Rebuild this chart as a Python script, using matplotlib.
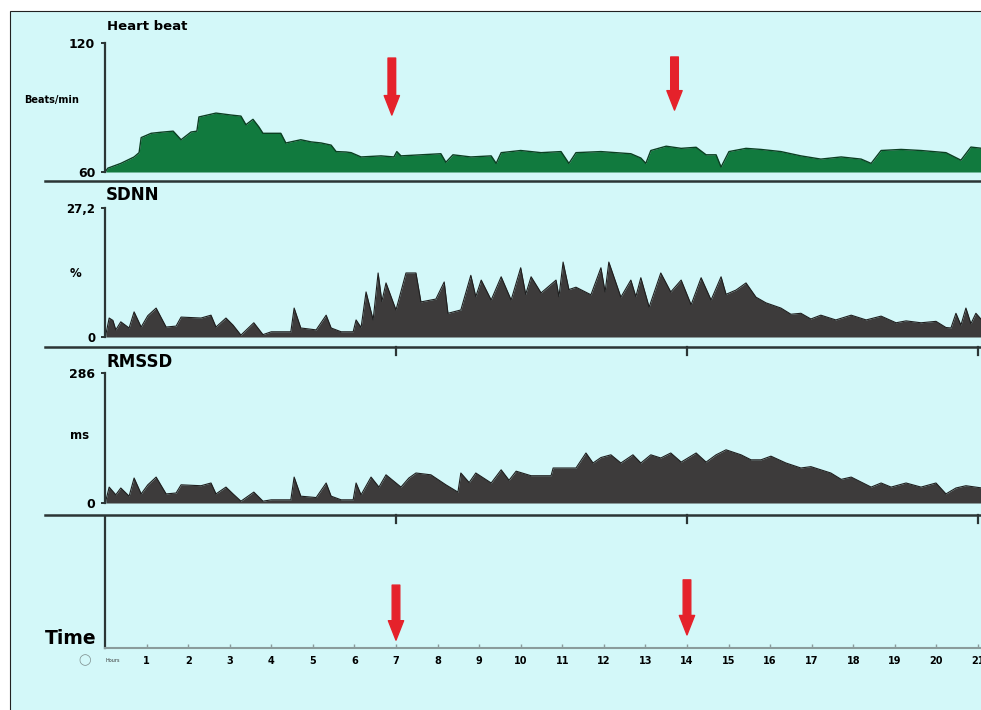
import matplotlib
matplotlib.use("Agg")
import matplotlib.pyplot as plt
from matplotlib.patches import Rectangle
from matplotlib.lines import Line2D
from matplotlib import transforms

# --- data (hours, value) ---
hr_hours = [0.02, 0.07, 0.38, 0.70, 0.82, 0.87, 1.11, 1.35, 1.64, 1.83, 2.07, 2.21, 2.26, 2.67,
            3.03, 3.27, 3.39, 3.56, 3.70, 3.80, 4.23, 4.35, 4.71, 4.96, 5.20, 5.44, 5.56, 5.80,
            5.92, 6.16, 6.64, 6.95, 7.02, 7.12, 7.60, 8.08, 8.20, 8.37, 8.80, 9.29, 9.41, 9.53,
            10.0, 10.49, 10.97, 11.16, 11.33, 11.93, 12.65, 12.89, 13.01, 13.13, 13.50, 13.86,
            14.22, 14.46, 14.70, 14.82, 15.01, 15.42, 15.78, 16.26, 16.74, 17.22, 17.71, 18.19,
            18.43, 18.67, 19.15, 19.63, 20.23, 20.59, 20.83, 21.1]
hr_values = [60.5, 61.8, 64, 67, 69, 76, 78, 78.5, 79, 75, 78.6, 79, 85.6, 87.4,
             86.5, 86, 82, 84.5, 81, 78, 78, 73.5, 75, 74, 73.5, 72.5, 69.5, 69.3,
             69, 67, 67.5, 67, 69.5, 67.5, 68, 68.5, 64.5, 68, 67, 67.5, 64, 69,
             70, 69, 69.5, 64, 69, 69.5, 68.5, 66.5, 64, 70, 72, 71,
             71.5, 68, 68, 62.3, 69.5, 71, 70.5, 69.5, 67.5, 66, 67, 66,
             64, 70, 70.5, 70, 69, 65.5, 71.6, 71]

sdnn_hours = [0.02, 0.10, 0.19, 0.26, 0.38, 0.58, 0.70, 0.87, 1.03, 1.23, 1.47, 1.71, 1.83, 2.31,
              2.55, 2.67, 2.91, 3.08, 3.27, 3.58, 3.80, 4.0, 4.47, 4.55, 4.71, 5.08, 5.32, 5.44,
              5.68, 5.97, 6.04, 6.16, 6.28, 6.45, 6.57, 6.66, 6.76, 7.0, 7.24, 7.48, 7.60, 7.96,
              8.16, 8.25, 8.56, 8.80, 8.92, 9.05, 9.29, 9.53, 9.77, 10.0, 10.12, 10.25, 10.49,
              10.85, 10.92, 11.02, 11.16, 11.33, 11.69, 11.93, 12.03, 12.12, 12.41, 12.65, 12.77,
              12.89, 13.09, 13.37, 13.61, 13.86, 14.10, 14.34, 14.58, 14.82, 14.94, 15.18, 15.42,
              15.66, 15.90, 16.26, 16.50, 16.74, 16.98, 17.22, 17.58, 17.95, 18.31, 18.67, 19.03,
              19.27, 19.63, 19.99, 20.23, 20.35, 20.47, 20.59, 20.71, 20.83, 20.95, 21.1]
sdnn_values = [0.5, 4.0, 3.5, 1.5, 3.2, 1.9, 5.3, 2.1, 4.5, 6.1, 2.1, 2.3, 4.2, 4.0,
               4.6, 2.1, 4.0, 2.5, 0.4, 3.0, 0.5, 1.1, 1.1, 6.1, 1.9, 1.5, 4.6, 1.9,
               1.1, 1.1, 3.6, 2.0, 9.5, 3.6, 13.5, 7.5, 11.4, 5.7, 13.5, 13.5, 7.4, 8.0,
               11.6, 5.0, 5.7, 13.0, 8.5, 12.0, 7.8, 12.7, 7.8, 14.6, 9.0, 12.7, 9.3,
               12.0, 8.5, 15.8, 10.0, 10.5, 8.9, 14.6, 9.5, 15.8, 8.4, 12.0, 8.5,
               12.5, 6.3, 13.5, 9.5, 12.0, 6.8, 12.5, 7.8, 12.7, 9.0, 9.9, 11.4,
               8.4, 7.2, 6.1, 4.8, 5.0, 3.8, 4.6, 3.6, 4.6, 3.6, 4.4, 3.0,
               3.4, 3.0, 3.3, 2.0, 1.9, 5.0, 2.5, 6.1, 2.8, 5.0, 3.5]

rmssd_hours = [0.02, 0.10, 0.26, 0.38, 0.58, 0.70, 0.87, 1.03, 1.23, 1.47, 1.71, 1.83, 2.31, 2.55,
               2.67, 2.91, 3.08, 3.27, 3.58, 3.80, 4.0, 4.47, 4.55, 4.71, 5.08, 5.32, 5.44, 5.68,
               5.97, 6.04, 6.16, 6.40, 6.59, 6.76, 7.12, 7.31, 7.48, 7.84, 8.20, 8.49, 8.56, 8.76,
               8.92, 9.29, 9.53, 9.72, 9.89, 10.25, 10.73, 10.78, 11.33, 11.57, 11.74, 11.93,
               12.17, 12.41, 12.70, 12.89, 13.13, 13.37, 13.61, 13.86, 14.22, 14.46, 14.70, 14.94,
               15.30, 15.54, 15.78, 16.02, 16.38, 16.74, 16.98, 17.46, 17.71, 17.95, 18.43, 18.67,
               18.91, 19.27, 19.63, 19.99, 20.23, 20.47, 20.71, 21.1]
rmssd_values = [5, 35, 18, 33, 15, 55, 20, 40, 57, 20, 22, 40, 38, 44,
                20, 35, 20, 4, 24, 4, 7, 7, 57, 15, 12, 44, 15, 7,
                7, 44, 18, 57, 35, 62, 35, 55, 66, 62, 40, 24, 66, 45,
                66, 44, 73, 50, 70, 60, 60, 77, 77, 110, 88, 100,
                106, 88, 106, 88, 106, 99, 110, 90, 110, 90, 106, 117,
                106, 95, 95, 103, 88, 77, 80, 66, 52, 57, 35, 44,
                35, 44, 35, 44, 20, 33, 38, 33]

hour_ticks = list(range(1, 22))
arrow_hours_top = [6.9, 13.7]
arrow_hours_bottom = [7.0, 14.0]

W, H = 981, 710
BG = "#d3f8f9"
GREEN = "#117a3e"
GREY = "#3d3b3b"
DARK = "#2b3535"
plt.rcParams["font.family"] = "DejaVu Sans"


def fx(px):
    return px / W


def fy(py):
    return 1 - py / H


fig = plt.figure(figsize=(W / 100, H / 100), dpi=100)
fig.patch.set_facecolor("white")
fig.add_artist(Rectangle((fx(10), -0.05), 1.1, fy(11) + 0.05, transform=fig.transFigure,
                         facecolor=BG, edgecolor="#222222", lw=0.8, zorder=0))

x_left, x_right = 105, 981
px_per_hour = 41.57
xmax = (x_right - x_left) / px_per_hour


def panel(top, bottom):
    ax = fig.add_axes([fx(x_left), fy(bottom), fx(x_right) - fx(x_left), (bottom - top) / H])
    ax.set_facecolor("none")
    ax.set_xlim(0, xmax)
    for s in ["top", "right", "bottom"]:
        ax.spines[s].set_visible(False)
    ax.spines["left"].set_color(DARK)
    ax.spines["left"].set_linewidth(1.6)
    ax.set_xticks([])
    ax.tick_params(axis="y", length=3, width=1.4, color=DARK, pad=4)
    return ax


# Heart beat
ax1 = panel(43, 172)
ax1.set_ylim(60, 120)
ax1.fill_between(hr_hours, 60, hr_values, color=GREEN, lw=0)
ax1.plot(hr_hours, hr_values, color="#0b3f22", lw=1)
ax1.set_yticks([60, 120])
ax1.set_yticklabels(["60", "120"], fontsize=9, fontweight="bold")
fig.text(fx(107), fy(26), "Heart beat", fontsize=9.5, fontweight="bold", va="center")
fig.text(fx(52), fy(100), "Beats/min", fontsize=7, fontweight="bold", ha="center", va="center")

# SDNN
ax2 = panel(208, 337)
ax2.set_ylim(0, 27.2)
ax2.fill_between(sdnn_hours, 0, sdnn_values, color=GREY, lw=0)
ax2.plot(sdnn_hours, sdnn_values, color="#1e1e1e", lw=0.8)
ax2.set_yticks([0, 27.2])
ax2.set_yticklabels(["0", "27,2"], fontsize=8.5, fontweight="bold")
fig.text(fx(106), fy(195), "SDNN", fontsize=12, fontweight="bold", va="center")
fig.text(fx(76), fy(274), "%", fontsize=8.5, fontweight="bold", ha="center", va="center")

# RMSSD
ax3 = panel(373, 503)
ax3.set_ylim(0, 286)
ax3.fill_between(rmssd_hours, 0, rmssd_values, color=GREY, lw=0)
ax3.plot(rmssd_hours, rmssd_values, color="#1e1e1e", lw=0.8)
ax3.set_yticks([0, 286])
ax3.set_yticklabels(["0", "286"], fontsize=9, fontweight="bold")
fig.text(fx(107), fy(362), "RMSSD", fontsize=12, fontweight="bold", va="center")
fig.text(fx(80), fy(436), "ms", fontsize=8.5, fontweight="bold", ha="center", va="center")

# Time axis
ax4 = panel(517, 648)
ax4.set_ylim(0, 1)
ax4.set_yticks([])
ax4.spines["bottom"].set_visible(True)
ax4.spines["bottom"].set_color("#8a9c9c")
ax4.spines["bottom"].set_linewidth(1.5)
ax4.set_xticks(hour_ticks)
ax4.set_xticklabels([str(h) for h in hour_ticks], fontsize=7, fontweight="bold")
ax4.tick_params(axis="x", direction="in", length=3, width=1, color="#8a9c9c", pad=6)
fig.text(fx(45), fy(638), "Time", fontsize=13.5, fontweight="bold", va="center")
fig.text(fx(85), fy(660), "\u25ef", fontsize=8, color="#7d8d8d", ha="center", va="center")
fig.text(fx(105), fy(660), "Hours", fontsize=3.5, color="#333333", va="center")

# separators between panels, with hanging ticks
for y in [181, 347, 515]:
    fig.add_artist(Line2D([fx(45), 1], [fy(y), fy(y)], transform=fig.transFigure,
                          color=DARK, lw=1.8))
blend = transforms.blended_transform_factory(ax4.transData, fig.transFigure)
for y in [347, 515]:
    for h in [7, 14, 21]:
        fig.add_artist(Line2D([h, h], [fy(y), fy(y + 8)], transform=blend, color=DARK, lw=1.6))

# red arrows
arrow_kw = dict(arrowstyle="simple,head_length=14,head_width=11,tail_width=5.5",
                color="#e5222b", mutation_scale=1, shrinkA=0, shrinkB=0)
for h, (y0, y1) in zip(arrow_hours_top, [(113, 86.5), (113.5, 88.8)]):
    ax1.annotate("", xy=(h, y1), xytext=(h, y0), arrowprops=arrow_kw)
for h, (y0, y1) in zip(arrow_hours_bottom, [(0.48, 0.06), (0.52, 0.10)]):
    ax4.annotate("", xy=(h, y1), xytext=(h, y0), arrowprops=arrow_kw)

plt.savefig("out.png", dpi=100)
plt.close()
